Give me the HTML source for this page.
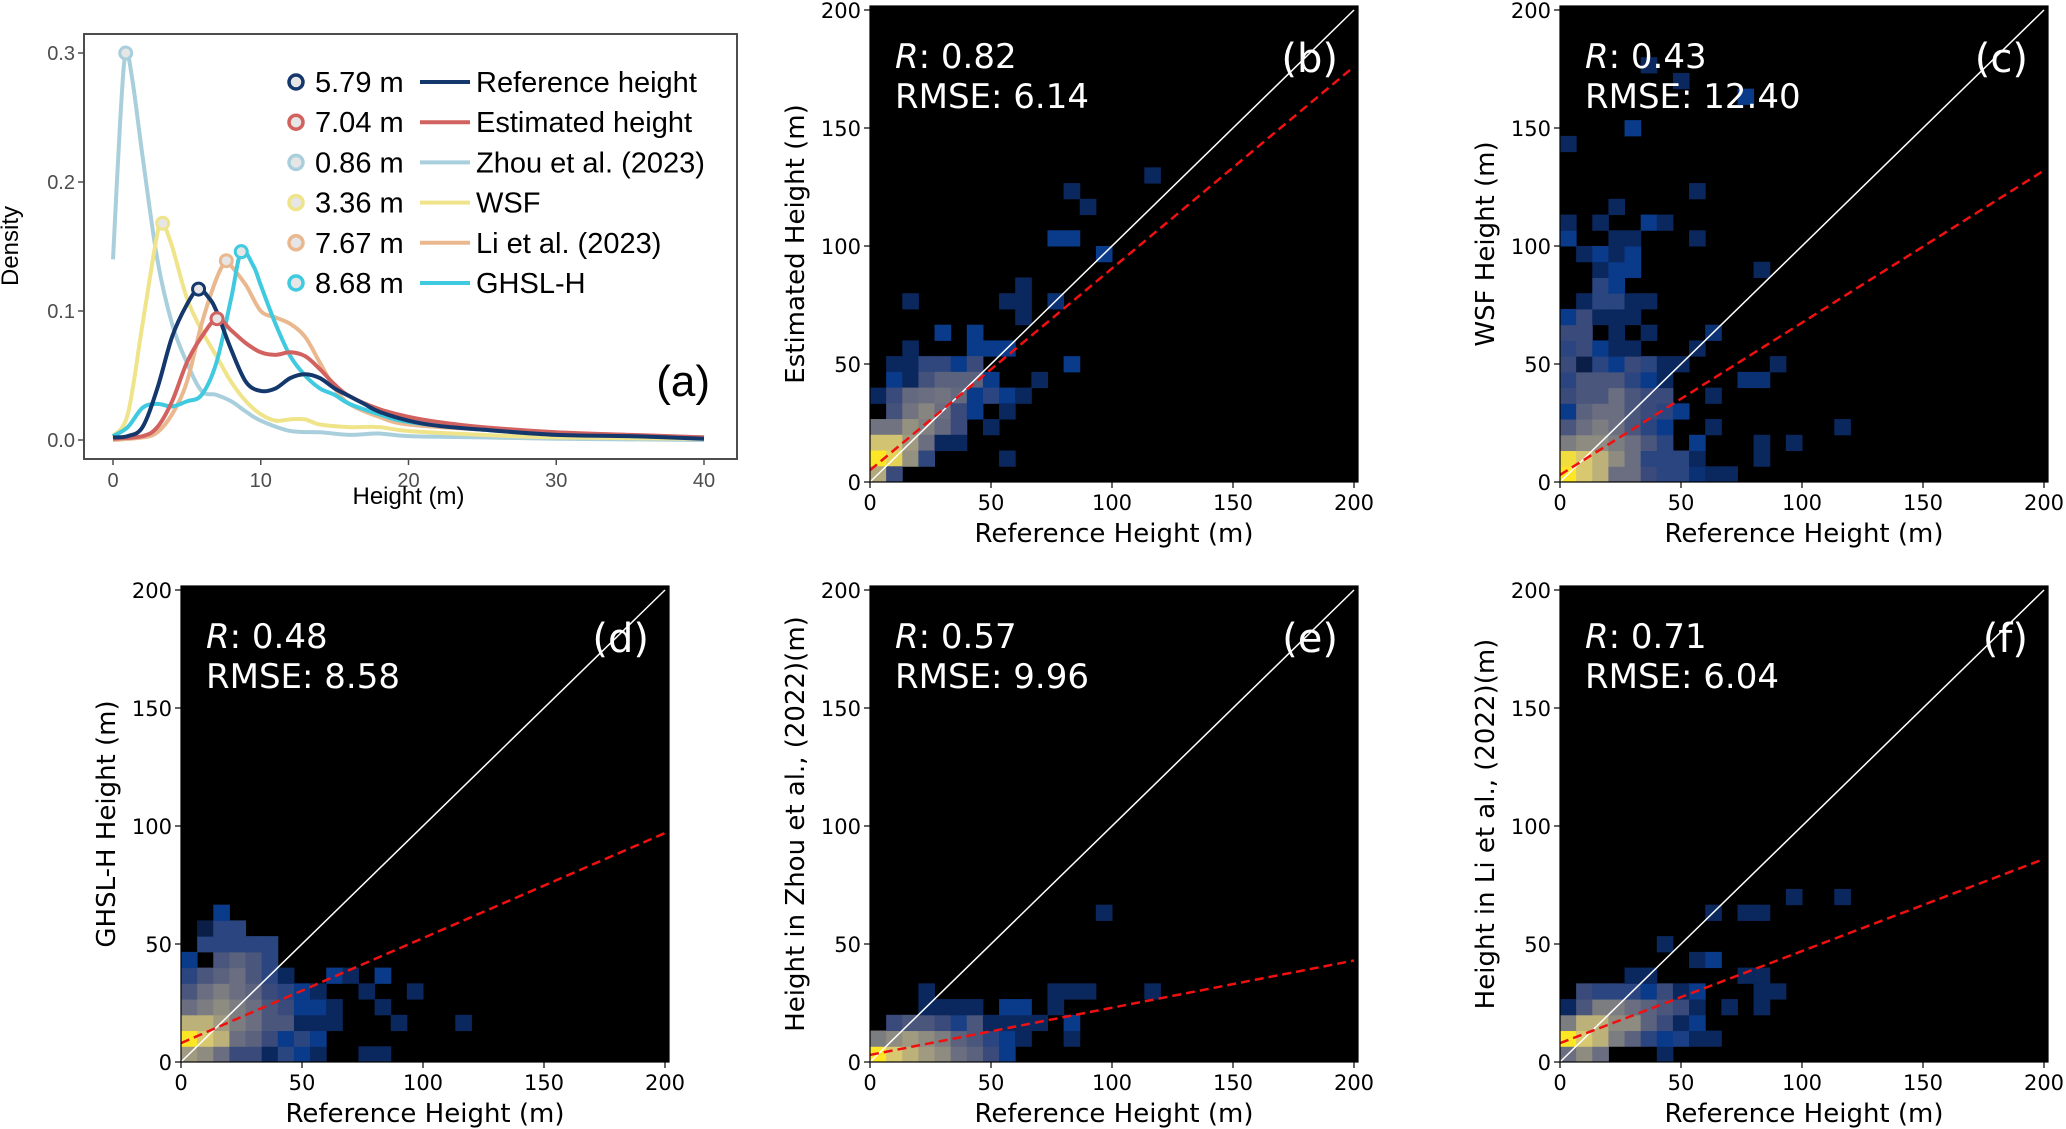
<!DOCTYPE html>
<html><head><meta charset="utf-8">
<style>
html,body{margin:0;padding:0;background:#fff;}
svg{display:block;}
text{font-family:"DejaVu Sans",sans-serif;}
.la{font-family:"Liberation Sans",sans-serif;}
</style></head>
<body>
<svg id="fig" width="2066" height="1129" viewBox="0 0 2066 1129" xmlns="http://www.w3.org/2000/svg"></svg>
<script>
// ---------- Panel (a) data ----------
const densSeriesNames = ["Reference height","Estimated height","Zhou et al. (2023)","WSF","Li et al. (2023)","GHSL-H"];
const densPeakLabels = ["5.79 m","7.04 m","0.86 m","3.36 m","7.67 m","8.68 m"];
const densPeakX = [5.79,7.04,0.86,3.36,7.67,8.68];
const densPeakY = [0.117,0.094,0.3,0.168,0.139,0.146];
const refX = [0,1,2,3,4,5,5.79,6.5,7,8,9,10,11,12,13,14,15,16,17,18,20,22,25,30,35,40];
const refY = [0.002,0.003,0.01,0.04,0.08,0.105,0.117,0.11,0.1,0.07,0.045,0.038,0.04,0.048,0.051,0.048,0.04,0.034,0.028,0.022,0.015,0.011,0.008,0.004,0.003,0.001];
const estX = [0,2,3,4,5,6,7.04,8,9,10,11,12,13,14,15,16,18,20,22,25,30,35,40];
const estY = [0.001,0.003,0.01,0.03,0.06,0.08,0.094,0.085,0.075,0.068,0.066,0.068,0.065,0.055,0.043,0.034,0.024,0.018,0.014,0.01,0.006,0.004,0.002];
const zhouX = [0,0.5,0.86,1.3,2,3,4,5,6,7,8,9,10,12,14,16,18,20,25,30,40];
const zhouY = [0.14,0.25,0.3,0.28,0.22,0.14,0.09,0.06,0.038,0.035,0.03,0.022,0.015,0.007,0.006,0.004,0.005,0.003,0.002,0.001,0];
const wsfX = [0,1,2,3,3.36,4,5,6,7,8,9,10,11,12,13,14,16,18,20,25,30,40];
const wsfY = [0.003,0.02,0.09,0.16,0.168,0.15,0.11,0.085,0.065,0.045,0.03,0.02,0.015,0.016,0.016,0.012,0.01,0.01,0.007,0.004,0.002,0.001];
const liX = [0,2,3,4,5,6,7,7.67,8,9,10,11,12,13,14,15,16,18,20,25,30,40];
const liY = [0,0.002,0.006,0.02,0.045,0.09,0.125,0.139,0.135,0.12,0.1,0.095,0.09,0.08,0.06,0.04,0.028,0.018,0.012,0.008,0.005,0.002];
const ghslX = [0,1,2,3,4,5,6,7,8,8.68,9.5,10,11,12,13,14,15,16,18,20,25,30,35,40];
const ghslY = [0.003,0.01,0.025,0.028,0.026,0.03,0.035,0.06,0.11,0.146,0.135,0.12,0.09,0.065,0.05,0.04,0.035,0.028,0.02,0.014,0.008,0.005,0.003,0.002];
const densXTicks = [0,10,20,30,40];
const densYTicks = [0,0.1,0.2,0.3];

// ---------- Scatter panel data: [col, row, intensity] on 30x30 bins over 0..200 ----------
const cellsB = [[17,19,.2],[12,18,.2],[13,17,.2],[11,15,.3],[12,15,.3],[14,14,.3],[9,10,.2],[9,11,.2],[9,12,.2],[8,11,.2],[11,11,.25],[2,11,.2],[4,9,.3],[6,9,.3],[2,8,.2],[6,8,.3],[7,8,.3],[8,8,.3],
[1,7,.2],[2,7,.2],[3,7,.42],[4,7,.42],[5,7,.3],[6,7,.45],[12,7,.3],
[1,6,.3],[2,6,.2],[3,6,.48],[4,6,.55],[5,6,.55],[6,6,.55],[7,6,.3],[10,6,.2],
[0,5,.2],[1,5,.45],[2,5,.58],[3,5,.6],[4,5,.62],[5,5,.58],[6,5,.3],[7,5,.4],[8,5,.3],[9,5,.2],
[1,4,.48],[2,4,.62],[3,4,.68],[4,4,.6],[5,4,.45],[6,4,.3],[8,4,.2],
[0,3,.62],[1,3,.62],[2,3,.72],[3,3,.66],[4,3,.58],[5,3,.45],[7,3,.2],
[0,2,.84],[1,2,.84],[2,2,.75],[3,2,.6],[4,2,.2],[5,2,.2],
[0,1,1],[1,1,.9],[2,1,.72],[3,1,.42],[8,1,.2],[0,0,.78],[1,0,.45]];
const cellsC = [[0,0,1],[1,0,.85],[2,0,.8],[3,0,.6],[4,0,.6],[5,0,.45],[6,0,.4],[7,0,.4],[8,0,.25],[9,0,.2],[10,0,.2],
[0,1,.95],[1,1,.85],[2,1,.8],[3,1,.7],[4,1,.6],[5,1,.4],[6,1,.4],[7,1,.4],[8,1,.2],[12,1,.2],
[0,2,.65],[1,2,.7],[2,2,.7],[3,2,.65],[4,2,.6],[5,2,.5],[6,2,.4],[8,2,.3],[12,2,.2],[14,2,.2],
[0,3,.5],[1,3,.6],[2,3,.65],[3,3,.6],[4,3,.5],[5,3,.4],[6,3,.3],[9,3,.2],[17,3,.2],
[0,4,.3],[1,4,.55],[2,4,.6],[3,4,.6],[4,4,.5],[5,4,.45],[6,4,.4],[7,4,.3],
[0,5,.45],[1,5,.5],[2,5,.5],[3,5,.6],[4,5,.5],[5,5,.45],[6,5,.45],[9,5,.2],
[0,6,.4],[1,6,.5],[2,6,.5],[3,6,.5],[4,6,.4],[5,6,.3],[6,6,.2],[11,6,.25],[12,6,.25],
[0,7,.45],[1,7,.15],[2,7,.4],[3,7,.3],[4,7,.45],[5,7,.4],[6,7,.2],[7,7,.2],[13,7,.2],
[0,8,.4],[1,8,.45],[2,8,.3],[3,8,.2],[4,8,.2],[8,8,.2],
[0,9,.45],[1,9,.45],[3,9,.2],[5,9,.2],[9,9,.25],
[0,10,.3],[1,10,.45],[2,10,.2],[3,10,.2],[4,10,.2],
[1,11,.2],[2,11,.4],[3,11,.4],[4,11,.2],[5,11,.2],
[2,12,.4],[3,12,.3],[2,13,.2],[3,13,.3],[4,13,.3],[12,13,.2],
[1,14,.2],[2,14,.3],[3,14,.2],[4,14,.3],[0,15,.3],[3,15,.2],[4,15,.2],[8,15,.2],
[0,16,.2],[2,16,.2],[5,16,.3],[6,16,.2],[3,17,.2],[8,18,.2],[0,21,.2],[4,22,.3],[11,24,.3],[7,25,.2],[5,26,.2]];
const cellsD = [[0,0,.75],[1,0,.7],[2,0,.6],[3,0,.45],[4,0,.45],[5,0,.2],[6,0,.4],[7,0,.3],[8,0,.2],[11,0,.2],[12,0,.2],
[0,1,1],[1,1,.85],[2,1,.8],[3,1,.6],[4,1,.55],[5,1,.45],[6,1,.3],[7,1,.4],[8,1,.3],
[0,2,.8],[1,2,.8],[2,2,.75],[3,2,.65],[4,2,.6],[5,2,.5],[6,2,.5],[7,2,.2],[8,2,.2],[9,2,.2],[13,2,.2],[17,2,.2],
[0,3,.6],[1,3,.65],[2,3,.7],[3,3,.65],[4,3,.6],[5,3,.5],[6,3,.45],[7,3,.3],[8,3,.3],[9,3,.2],[12,3,.2],
[0,4,.5],[1,4,.6],[2,4,.65],[3,4,.6],[4,4,.55],[5,4,.45],[6,4,.4],[7,4,.3],[8,4,.2],[11,4,.2],[14,4,.2],
[0,5,.4],[1,5,.5],[2,5,.55],[3,5,.6],[4,5,.5],[5,5,.4],[6,5,.2],[9,5,.3],[10,5,.2],[12,5,.3],
[0,6,.3],[2,6,.5],[3,6,.55],[4,6,.5],[5,6,.4],
[1,7,.4],[2,7,.4],[3,7,.4],[4,7,.4],[5,7,.4],[1,8,.15],[2,8,.4],[3,8,.4],[2,9,.3]];
const cellsE = [[0,0,1],[1,0,.85],[2,0,.8],[3,0,.75],[4,0,.7],[5,0,.6],[6,0,.55],[7,0,.45],[8,0,.3],
[0,1,.65],[1,1,.7],[2,1,.75],[3,1,.7],[4,1,.65],[5,1,.55],[6,1,.5],[7,1,.4],[8,1,.3],[9,1,.2],[12,1,.2],
[1,2,.45],[2,2,.5],[3,2,.5],[4,2,.45],[5,2,.35],[6,2,.5],[7,2,.2],[8,2,.2],[9,2,.2],[10,2,.2],[12,2,.3],
[3,3,.2],[4,3,.2],[5,3,.2],[6,3,.2],[8,3,.3],[9,3,.3],[11,3,.2],
[3,4,.2],[11,4,.2],[12,4,.2],[13,4,.2],[17,4,.2],[14,9,.2]];
const cellsF = [[0,0,.6],[1,0,.7],[2,0,.6],[6,0,.2],
[0,1,1],[1,1,.85],[2,1,.8],[3,1,.65],[4,1,.55],[5,1,.4],[6,1,.3],[7,1,.35],[8,1,.2],[9,1,.2],
[0,2,.65],[1,2,.8],[2,2,.8],[3,2,.7],[4,2,.7],[5,2,.55],[6,2,.45],[7,2,.2],[8,2,.3],
[0,3,.2],[1,3,.5],[2,3,.65],[3,3,.65],[4,3,.6],[5,3,.55],[6,3,.5],[7,3,.45],[8,3,.2],[10,3,.2],[12,3,.2],
[1,4,.45],[2,4,.4],[3,4,.4],[4,4,.4],[5,4,.3],[6,4,.45],[7,4,.2],[8,4,.3],[12,4,.2],[13,4,.2],
[4,5,.2],[5,5,.2],[11,5,.2],[12,5,.2],[8,6,.2],[9,6,.3],[6,7,.2],[9,9,.2],[11,9,.2],[12,9,.2],[14,10,.2],[17,10,.2]];
const panelLetters = ["(b)","(c)","(d)","(e)","(f)"];
const panelR = ["0.82","0.43","0.48","0.57","0.71"];
const panelRMSE = ["6.14","12.40","8.58","9.96","6.04"];
const panelYTitles = ["Estimated Height (m)","WSF Height (m)","GHSL-H Height (m)","Height in Zhou et al., (2022)(m)","Height in Li et al., (2022)(m)"];
const fitIntercept = [5,3,8,3,8];
const fitEnd = [176,132,97,43,86];
const scatterTicks = [0,50,100,150,200];

const NS="http://www.w3.org/2000/svg";
const svg=document.getElementById('fig');
function mk(tag,attrs,parent){const e=document.createElementNS(NS,tag);for(const k in attrs)e.setAttribute(k,attrs[k]);(parent||svg).appendChild(e);return e;}

// ---------- Panel (a) ----------
const A={l:84,r:737,t:34,b:459,x0:113,x1:704,y0:440,y3:53};
const ax=v=>A.x0+(A.x1-A.x0)*v/40;
const ay=v=>A.y0-(A.y0-A.y3)*v/0.3;
const gA=mk('g',{});


const boxA=mk('rect',{x:A.l,y:A.t,width:A.r-A.l,height:A.b-A.t,fill:'#fff',stroke:'#4d4d4d','stroke-width':2},gA);


densXTicks.forEach(v=>{
  mk('line',{x1:ax(v),x2:ax(v),y1:A.b,y2:A.b+6,stroke:'#4d4d4d','stroke-width':1.5},gA);
  const t=mk('text',{x:ax(v),y:A.b+28,'text-anchor':'middle','font-size':20,fill:'#4d4d4d',class:'la'},gA);
  t.textContent=v;
  
  
});
densYTicks.forEach(v=>{
  mk('line',{x1:A.l-6,x2:A.l,y1:ay(v),y2:ay(v),stroke:'#4d4d4d','stroke-width':1.5},gA);
  const t=mk('text',{x:A.l-9,y:ay(v)+7,'text-anchor':'end','font-size':20,fill:'#4d4d4d',class:'la'},gA);
  t.textContent=v.toFixed(1);
  
  
});
const axt=mk('text',{x:(A.x0+A.x1)/2,y:504,'text-anchor':'middle','font-size':24,fill:'#000',class:'la'},gA);
axt.textContent='Height (m)';


const ayt=mk('text',{x:0,y:0,'text-anchor':'middle','font-size':24,fill:'#000',class:'la',transform:'translate(18,246) rotate(-90)'},gA);
ayt.textContent='Density';



const seriesX=[refX,estX,zhouX,wsfX,liX,ghslX];
const seriesY=[refY,estY,zhouY,wsfY,liY,ghslY];
const seriesCol=['#14386c','#d2625f','#a9cfdc','#efe48a','#eab88e','#3fcadf'];
const drawOrder=[2,3,4,5,1,0];
function smoothPath(xs,ys){
  const p=xs.map((x,i)=>[ax(x),ay(ys[i])]);
  let d='M'+p[0][0]+','+p[0][1];
  for(let i=0;i<p.length-1;i++){
    const p0=p[i-1]||p[i],p1=p[i],p2=p[i+1],p3=p[i+2]||p2;
    const c1=[p1[0]+(p2[0]-p0[0])/6,p1[1]+(p2[1]-p0[1])/6];
    const c2=[p2[0]-(p3[0]-p1[0])/6,p2[1]-(p3[1]-p1[1])/6];
    d+=` C${c1[0]},${c1[1]} ${c2[0]},${c2[1]} ${p2[0]},${p2[1]}`;
  }
  return d;
}
drawOrder.forEach(i=>{
  const pth=mk('path',{d:smoothPath(seriesX[i],seriesY[i]),fill:'none',stroke:seriesCol[i],'stroke-width':4},gA);
  
  
});
drawOrder.forEach(i=>{
  const c=mk('circle',{cx:ax(densPeakX[i]),cy:ay(densPeakY[i]),r:6,fill:'#e6e6e6',stroke:seriesCol[i],'stroke-width':3},gA);
  
  
});
// legend
for(let i=0;i<6;i++){
  const y=82+i*40.2;
  const g=mk('g',{},gA);
  
  
  mk('circle',{cx:296,cy:y,r:7,fill:'#e6e6e6',stroke:seriesCol[i],'stroke-width':3.5},g);
  const t1=mk('text',{x:315,y:y+10,'font-size':29,fill:'#000',class:'la'},g);
  t1.textContent=densPeakLabels[i];
  mk('line',{x1:420,x2:470,y1:y,y2:y,stroke:seriesCol[i],'stroke-width':4},g);
  const t2=mk('text',{x:476,y:y+10,'font-size':29,fill:'#000',class:'la'},g);
  t2.textContent=densSeriesNames[i];
}
const la=mk('text',{x:710,y:396,'text-anchor':'end','font-size':44,fill:'#000',class:'la'},gA);
la.textContent='(a)';



// ---------- Scatter panels ----------
const stops=[[0,[0,0,0]],[0.15,[10,30,72]],[0.3,[10,58,138]],[0.45,[58,74,122]],[0.6,[106,110,128]],[0.75,[160,154,128]],[0.85,[216,200,112]],[1,[253,231,37]]];
function cmap(v){
  for(let i=1;i<stops.length;i++){
    if(v<=stops[i][0]){const a=stops[i-1],b=stops[i];const f=(v-a[0])/(b[0]-a[0]);
      const c=a[1].map((q,k)=>Math.round(q+(b[1][k]-q)*f));return `rgb(${c})`;}
  }
  return 'rgb(253,231,37)';
}
const panels=[{x0:870,y0:482,cells:cellsB},{x0:1560,y0:482,cells:cellsC},{x0:181,y0:1062,cells:cellsD},{x0:870,y0:1062,cells:cellsE},{x0:1560,y0:1062,cells:cellsF}];
const PW=488,PH=476,SX=484/200,SY=472/200;
panels.forEach((P,pi)=>{
  const sx=v=>P.x0+v*SX, sy=v=>P.y0-v*SY;
  const g=mk('g',{});
  
  
  const bg=mk('rect',{x:P.x0,y:P.y0-PH,width:PW,height:PH,fill:'#000'},g);
  
  
  const bw=200/30;
  P.cells.forEach(c=>{
    const r=mk('rect',{x:sx(c[0]*bw),y:sy((c[1]+1)*bw),width:bw*SX+0.5,height:bw*SY+0.5,fill:cmap(c[2])},g);
    
    
  });
  const l1=mk('line',{x1:sx(0),y1:sy(0),x2:sx(200),y2:sy(200),stroke:'#fff','stroke-width':1.5},g);
  
  
  const l2=mk('line',{x1:sx(0),y1:sy(fitIntercept[pi]),x2:sx(200),y2:sy(fitEnd[pi]),stroke:'#f01010','stroke-width':2.5,'stroke-dasharray':'9,5'},g);
  
  
  mk('rect',{x:P.x0,y:P.y0-PH,width:PW,height:PH,fill:'none',stroke:'#000','stroke-width':1.2},g);
  scatterTicks.forEach(v=>{
    mk('line',{x1:sx(v),x2:sx(v),y1:P.y0,y2:P.y0+6,stroke:'#000','stroke-width':1.2},g);
    const tx=mk('text',{x:sx(v),y:P.y0+28,'text-anchor':'middle','font-size':21,fill:'#000'},g);
    tx.textContent=v;
    
    
    mk('line',{x1:P.x0-6,x2:P.x0,y1:sy(v),y2:sy(v),stroke:'#000','stroke-width':1.2},g);
    const ty=mk('text',{x:P.x0-9,y:sy(v)+8,'text-anchor':'end','font-size':21,fill:'#000'},g);
    ty.textContent=v;
    
    
  });
  const xt=mk('text',{x:P.x0+PW/2,y:P.y0+60,'text-anchor':'middle','font-size':26,fill:'#000'},g);
  xt.textContent='Reference Height (m)';
  
  
  const yt=mk('text',{x:0,y:0,'text-anchor':'middle','font-size':26,fill:'#000',transform:`translate(${P.x0-66},${P.y0-PH/2}) rotate(-90)`},g);
  yt.textContent=panelYTitles[pi];
  
  
  const rt=mk('text',{x:P.x0+25,y:P.y0-PH+62,'font-size':34,fill:'#fff'},g);
  rt.innerHTML='<tspan font-style="italic">R</tspan>: '+panelR[pi];
  
  
  const et=mk('text',{x:P.x0+25,y:P.y0-PH+102,'font-size':34,fill:'#fff'},g);
  et.textContent='RMSE: '+panelRMSE[pi];
  
  
  const lt=mk('text',{x:P.x0+PW-20,y:P.y0-PH+66,'text-anchor':'end','font-size':40,fill:'#fff'},g);
  lt.textContent=panelLetters[pi];
  
  
});
</script>
</body></html>
